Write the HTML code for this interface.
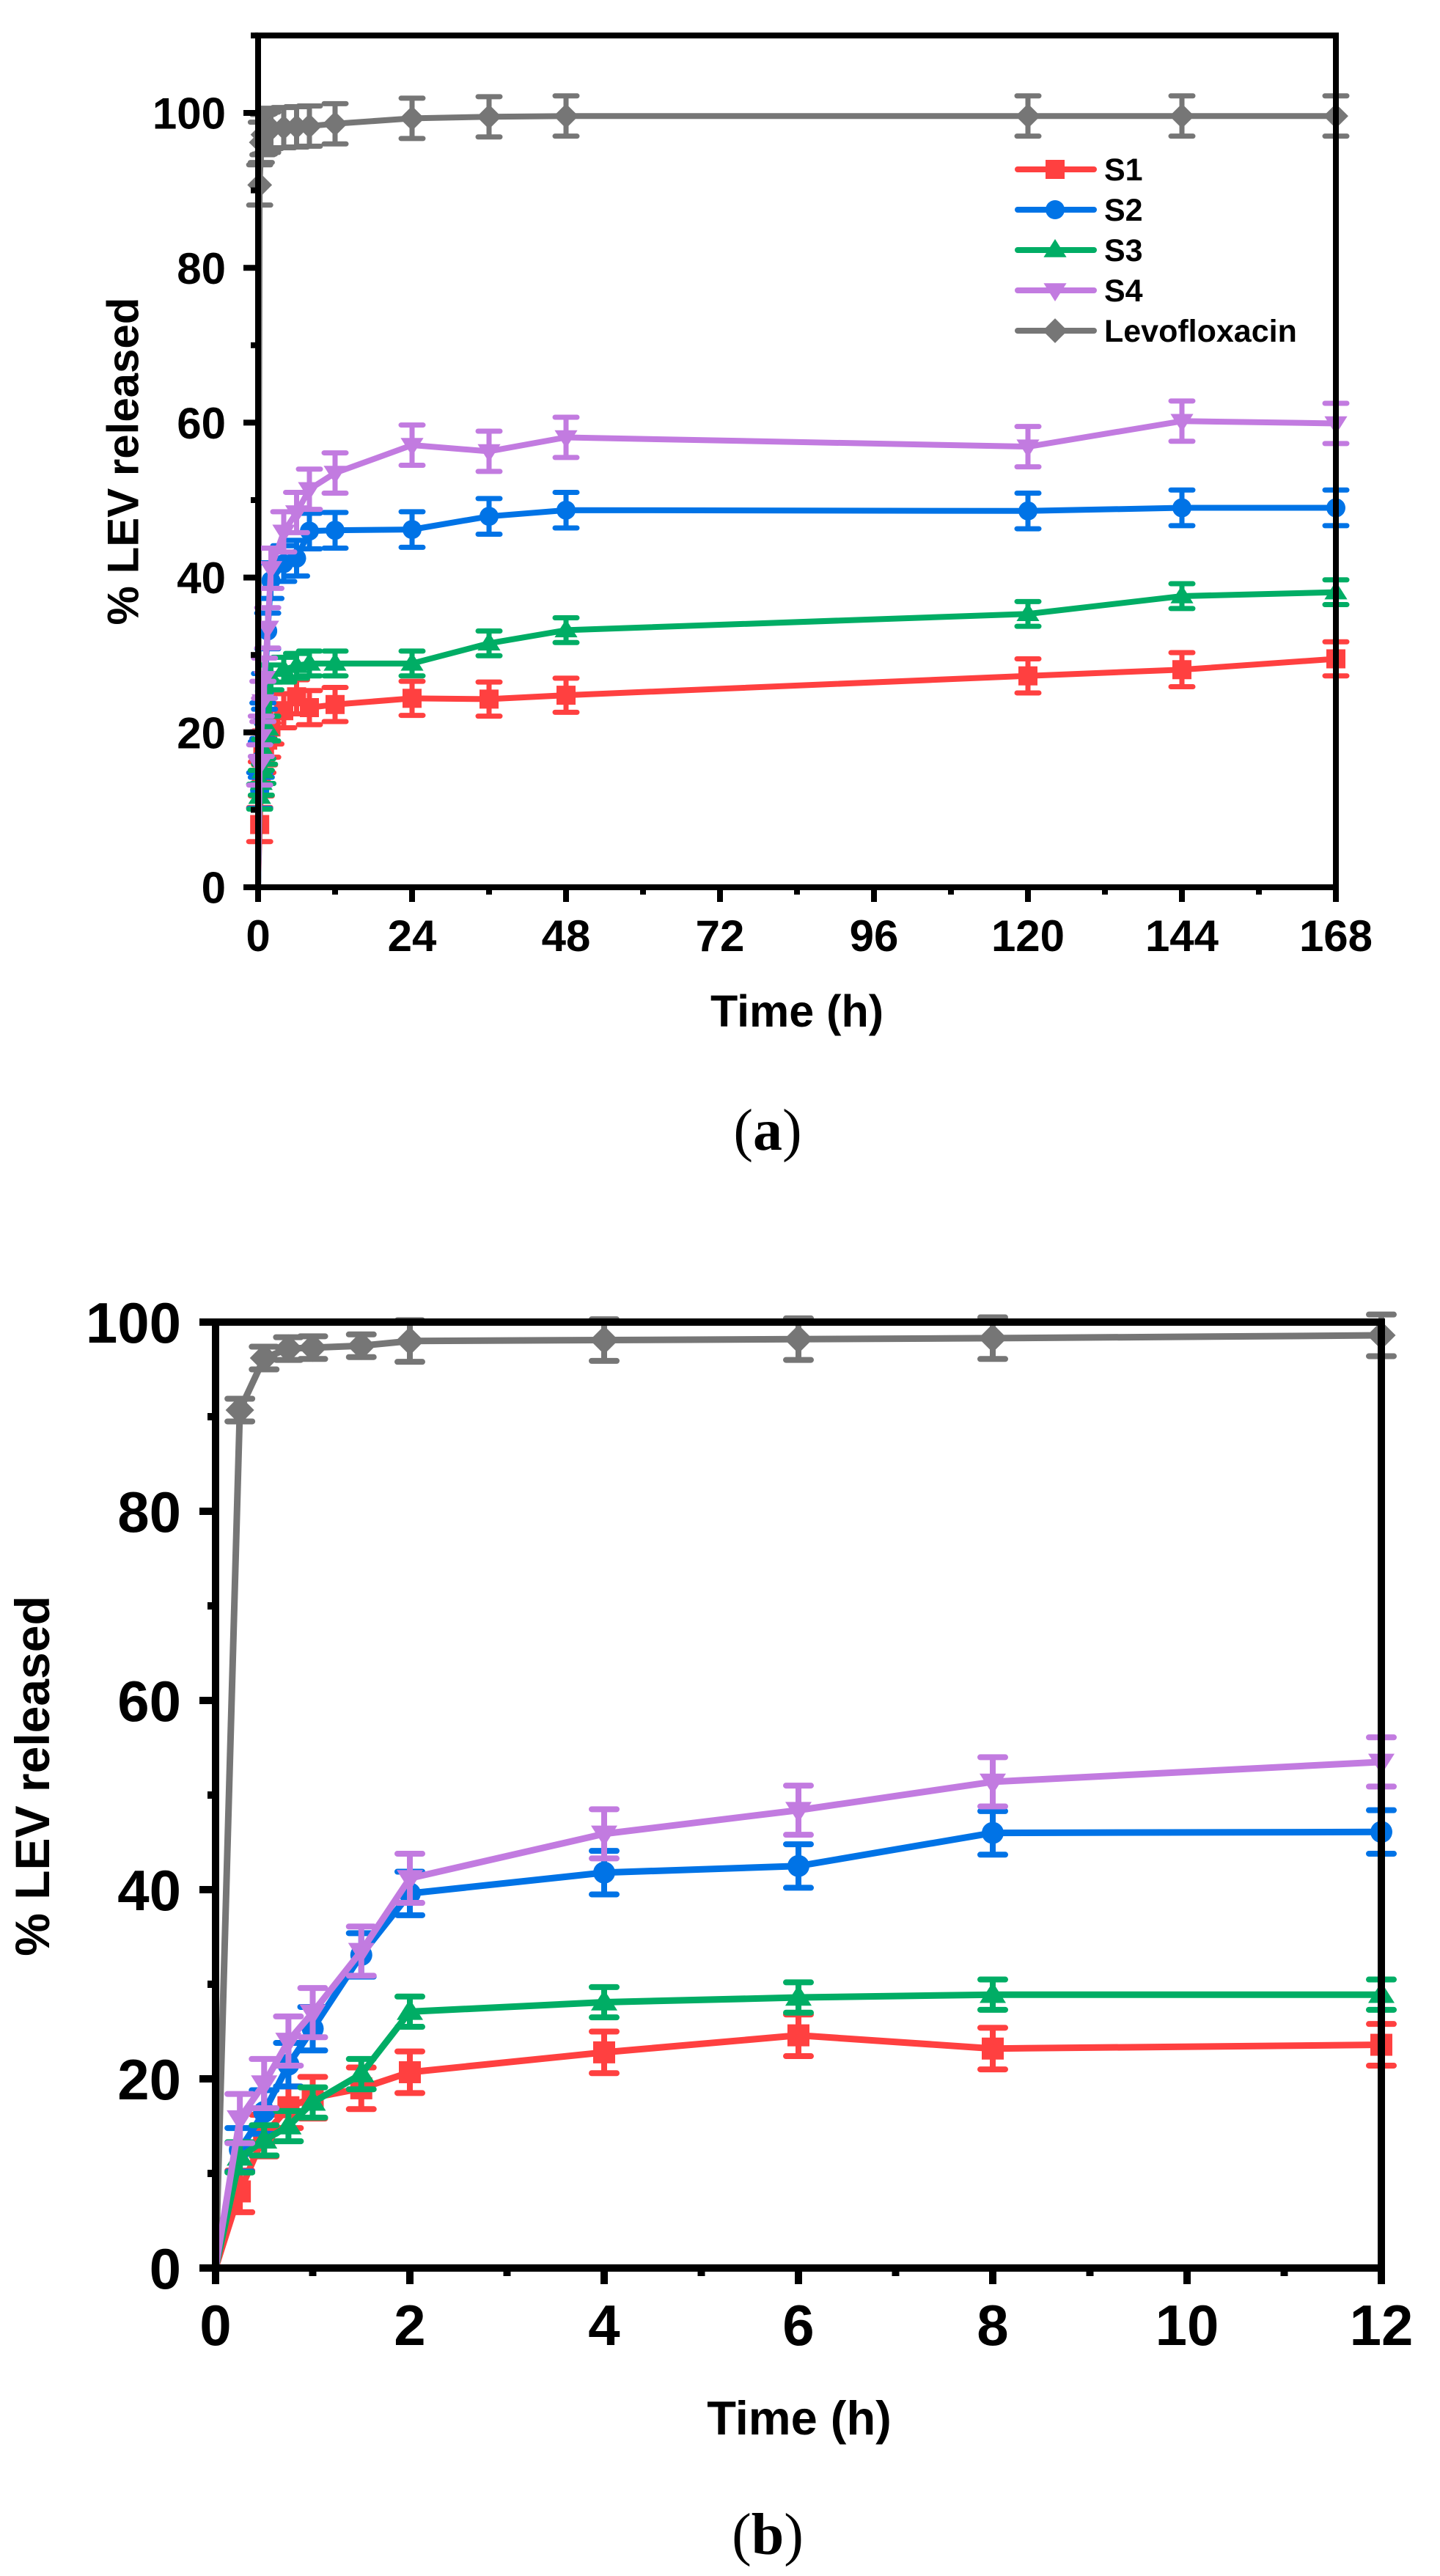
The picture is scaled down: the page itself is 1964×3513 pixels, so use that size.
<!DOCTYPE html>
<html><head><meta charset="utf-8"><style>
html,body{margin:0;padding:0;background:#fff}
svg{display:block}
text{font-family:"Liberation Sans",Arial,sans-serif;font-weight:bold;fill:#000}
</style></head><body>
<svg id="s" width="1964" height="3513" viewBox="0 0 1964 3513" xmlns="http://www.w3.org/2000/svg">
<text x="168" y="629" font-size="60" text-anchor="middle" dominant-baseline="central" transform="rotate(-90 168 629)">% LEV released</text>
<text x="1087" y="1400" font-size="61" text-anchor="middle">Time (h)</text>
<text x="1047" y="1568" font-size="80" text-anchor="middle" style="font-family:'Liberation Serif',serif;font-weight:normal">(<tspan font-weight="bold">a</tspan>)</text>
<text x="44" y="2422" font-size="66" text-anchor="middle" dominant-baseline="central" transform="rotate(-90 44 2422)">% LEV released</text>
<text x="1090" y="3320" font-size="65" text-anchor="middle">Time (h)</text>
<text x="1047" y="3483" font-size="80" text-anchor="middle" style="font-family:'Liberation Serif',serif;font-weight:normal">(<tspan font-weight="bold">b</tspan>)</text>
</svg>
<script>
var NS="http://www.w3.org/2000/svg",S=document.getElementById('s');
function el(n,a,p){var e=document.createElementNS(NS,n);for(var k in a)e.setAttribute(k,a[k]);(p||S).appendChild(e);return e;}
var T=[0,0.25,0.5,0.75,1,1.5,2,4,6,8,12,24,36,48,120,144,168];
var D={
lev:[0,90.7,96.2,97.2,97.3,97.5,98.0,98.1,98.2,98.3,98.6,99.3,99.5,99.6,99.6,99.6,99.6],
s4:[0,15.8,19.5,24,27,33.5,41.2,45.9,48.4,51.4,53.5,57.1,56.3,58.1,56.9,60.2,59.9],
s2:[0,12.5,16.5,21.5,25.3,33.1,39.6,41.8,42.5,46,46.1,46.2,47.9,48.7,48.6,49,49],
s3:[0,11.7,13.5,15,17.5,20.5,27.1,28.1,28.6,28.9,28.9,28.9,31.5,33.2,35.3,37.6,38.1],
s1:[0,8.1,14,17,18,19,20.7,22.8,24.6,23.2,23.6,24.4,24.3,24.8,27.3,28.1,29.5]};
var C={s1:'#ff4040',s2:'#0073e6',s3:'#00ad65',s4:'#c27be0',lev:'#767676'};
var M={s1:'sq',s2:'ci',s3:'tu',s4:'td',lev:'di'};
var E={s1:2.2,s2:2.3,s3:1.6,s4:2.6,lev:2.6};
function marker(t,x,y,r,c,g){
 if(t=='sq')el('rect',{x:x-r,y:y-r,width:r*2,height:r*2,fill:c},g);
 else if(t=='ci')el('circle',{cx:x,cy:y,r:r,fill:c},g);
 else if(t=='tu')el('polygon',{points:(x)+','+(y-r*1.15)+' '+(x+r*1.2)+','+(y+r*0.75)+' '+(x-r*1.2)+','+(y+r*0.75),fill:c},g);
 else if(t=='td')el('polygon',{points:(x)+','+(y+r*1.15)+' '+(x+r*1.2)+','+(y-r*0.75)+' '+(x-r*1.2)+','+(y-r*0.75),fill:c},g);
 else el('polygon',{points:x+','+(y-r*1.3)+' '+(x+r*1.3)+','+y+' '+x+','+(y+r*1.3)+' '+(x-r*1.3)+','+y,fill:c},g);
}
function panel(o){
 var X=function(t){return o.x0+o.px*t},Y=function(v){return o.y0-o.py*v};
 var g=el('g',{});
 var order=['lev','s1','s2','s3','s4'];
 order.forEach(function(k){
  var pts=[];for(var i=0;i<T.length;i++){if(T[i]<=o.tmax)pts.push([X(T[i]),Y(D[k][i]),D[k][i],T[i]]);}
  el('polyline',{points:pts.map(function(p){return p[0]+','+p[1]}).join(' '),fill:'none',stroke:C[k],'stroke-width':o.lw,'stroke-linejoin':'round'},g);
  pts.forEach(function(p){
   if(p[3]==0)return;
   var ee=E[k];if(o.tmax<20&&k=='lev')ee=(p[3]<2?1.2:2.2);
   var e=ee*o.py,x=p[0],y=p[1];
   el('path',{d:'M'+x+','+(y-e)+'V'+(y+e)+'M'+(x-o.cap)+','+(y-e)+'H'+(x+o.cap)+'M'+(x-o.cap)+','+(y+e)+'H'+(x+o.cap),stroke:C[k],'stroke-width':o.ew,'stroke-linecap':'round',fill:'none'},g);
   marker(M[k],x,y,o.mr,C[k],g);
  });
 });
 var aw=o.aw,L=o.x0,R=X(o.tmax),B=o.y0,Tp=Y(o.vmax);
 el('rect',{x:L,y:Tp,width:R-L,height:B-Tp,fill:'none',stroke:'#000','stroke-width':aw});
 for(var t=0;t<=o.tmax+1e-9;t+=o.tmin){var maj=Math.abs(t/o.tmaj-Math.round(t/o.tmaj))<1e-6;
  el('line',{x1:X(t),x2:X(t),y1:B,y2:B+(maj?o.tl:o.tl/2),stroke:'#000','stroke-width':aw});
  if(maj){var tx=el('text',{x:X(t),y:o.xlb,'font-size':o.fs,'text-anchor':'middle'});tx.textContent=Math.round(t);}}
 for(var v=0;v<=o.vmax+1e-9;v+=10){var maj=v%20==0;
  el('line',{x1:L,x2:L-(maj?o.tl:o.tl/2),y1:Y(v),y2:Y(v),stroke:'#000','stroke-width':aw});
  if(maj&&v<=100){var ty=el('text',{x:o.ylr,y:Y(v)+o.fs*0.36,'font-size':o.fs,'text-anchor':'end'});ty.textContent=v;}}
}
panel({x0:352,px:8.75,y0:1210,py:10.56,tmax:168,vmax:110,tmaj:24,tmin:12,lw:8,ew:7,cap:15,mr:13,aw:8,tl:20,fs:60,xlb:1297,ylr:308});
panel({x0:294,px:132.5,y0:3093,py:12.9,tmax:12,vmax:100,tmaj:2,tmin:1,lw:9,ew:8,cap:17,mr:15,aw:10,tl:22,fs:78,xlb:3198,ylr:247});
var ly=[231,286,341,396,451],lk=['s1','s2','s3','s4','lev'],ln=['S1','S2','S3','S4','Levofloxacin'];
for(var i=0;i<5;i++){
 el('line',{x1:1388,x2:1492,y1:ly[i],y2:ly[i],stroke:C[lk[i]],'stroke-width':8,'stroke-linecap':'round'});
 marker(M[lk[i]],1439,ly[i],13,C[lk[i]]);
 var t=el('text',{x:1506,y:ly[i]+15,'font-size':43});t.textContent=ln[i];
}
</script>
</body></html>
